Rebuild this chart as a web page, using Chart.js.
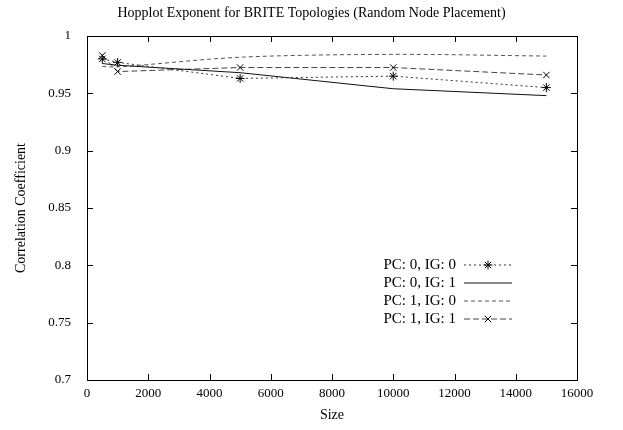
<!DOCTYPE html>
<html>
<head>
<meta charset="utf-8">
<script src="https://cdn.jsdelivr.net/npm/chart.js@4/dist/chart.umd.min.js"></script>
<style>
  html, body { margin: 0; padding: 0; background: #fff; }
  #wrap { width: 623px; height: 430px; }
</style>
</head>
<body>
<div id="wrap"><canvas id="grafico" width="623" height="430"></canvas></div>
<script>
// dados
const tamanhos = [500, 1000, 5000, 10000, 15000];
const pc0ig0 = [0.980, 0.977, 0.963, 0.965, 0.955];
const pc0ig1 = [0.976, 0.9745, 0.968, 0.954, 0.948];
const pc1ig0 = [0.9735, 0.973, 0.9815, 0.984, 0.9825];
const pc1ig1 = [0.983, 0.969, 0.9725, 0.9725, 0.966];
const ticksX = [0, 2000, 4000, 6000, 8000, 10000, 12000, 14000, 16000];
const ticksY = [0.7, 0.75, 0.8, 0.85, 0.9, 0.95, 1];
const titulo = "Hopplot Exponent for BRITE Topologies (Random Node Placement)";

const fonte = "'Liberation Serif', 'Times New Roman', serif";

function pontos(valores) {
  return tamanhos.map((t, i) => ({ x: t, y: valores[i] }));
}

// moldura + marcas internas estilo gnuplot
const moldura = {
  id: "moldura",
  afterDraw(chart) {
    const { ctx, chartArea: a, scales } = chart;
    ctx.save();
    ctx.strokeStyle = "#000";
    ctx.lineWidth = 1;
    ctx.strokeRect(a.left + 0.5, a.top + 0.5, a.right - a.left, a.bottom - a.top);
    ctx.beginPath();
    ticksX.slice(1, -1).forEach(v => {
      const x = Math.round(scales.x.getPixelForValue(v)) + 0.5;
      ctx.moveTo(x, a.bottom); ctx.lineTo(x, a.bottom - 6);
      ctx.moveTo(x, a.top); ctx.lineTo(x, a.top + 6);
    });
    ticksY.slice(1, -1).forEach(v => {
      const y = Math.round(scales.y.getPixelForValue(v)) + 0.5;
      ctx.moveTo(a.left, y); ctx.lineTo(a.left + 6, y);
      ctx.moveTo(a.right, y); ctx.lineTo(a.right - 6, y);
    });
    ctx.stroke();

    // titulo centrado na pagina toda
    ctx.fillStyle = "#000";
    ctx.font = "14px " + fonte;
    ctx.textAlign = "center";
    ctx.textBaseline = "middle";
    ctx.fillText(titulo, chart.width / 2, 13);
    ctx.restore();
  }
};

// legenda dentro do grafico
const legenda = {
  id: "legenda",
  afterDraw(chart) {
    const { ctx } = chart;
    ctx.save();
    ctx.font = "15px " + fonte;
    ctx.textAlign = "right";
    ctx.textBaseline = "middle";
    chart.data.datasets.forEach((ds, i) => {
      const y = 265 + i * 18;
      ctx.fillStyle = "#000";
      ctx.fillText(ds.label, 456, y);
      ctx.strokeStyle = ds.borderColor;
      ctx.lineWidth = ds.borderWidth;
      ctx.setLineDash(ds.borderDash || []);
      ctx.beginPath();
      ctx.moveTo(464, y); ctx.lineTo(512, y);
      ctx.stroke();
      ctx.setLineDash([]);
      if (ds.pointStyle && ds.pointRadius > 0) {
        ctx.fillStyle = ds.pointBorderColor;
        ctx.strokeStyle = ds.pointBorderColor;
        Chart.helpers.drawPoint(ctx, { pointStyle: ds.pointStyle, radius: ds.pointRadius, borderWidth: 1, rotation: 0 }, 488, y);
      }
    });
    ctx.restore();
  }
};

new Chart(document.getElementById("grafico").getContext("2d"), {
  type: "line",
  data: {
    datasets: [
      {
        label: "PC: 0, IG: 0",
        data: pontos(pc0ig0),
        borderColor: "#333",
        borderWidth: 1,
        borderDash: [2, 3],
        pointStyle: "star",
        pointRadius: 4.5,
        pointBorderColor: "#000",
        pointBorderWidth: 1
      },
      {
        label: "PC: 0, IG: 1",
        data: pontos(pc0ig1),
        borderColor: "#111",
        borderWidth: 1,
        pointRadius: 0
      },
      {
        label: "PC: 1, IG: 0",
        data: pontos(pc1ig0),
        borderColor: "#555",
        borderWidth: 1,
        borderDash: [4, 3],
        pointRadius: 0,
        tension: 0.3
      },
      {
        label: "PC: 1, IG: 1",
        data: pontos(pc1ig1),
        borderColor: "#444",
        borderWidth: 1,
        borderDash: [6, 3],
        pointStyle: "crossRot",
        pointRadius: 4.5,
        pointBorderColor: "#000",
        pointBorderWidth: 1
      }
    ]
  },
  options: {
    responsive: false,
    animation: false,
    layout: { padding: { left: 0, right: 46, top: 36, bottom: 0 } },
    plugins: {
      legend: { display: false },
      tooltip: { enabled: false },
      title: { display: false }
    },
    scales: {
      x: {
        type: "linear",
        min: 0,
        max: 16000,
        afterBuildTicks(scale) { scale.ticks = ticksX.map(v => ({ value: v })); },
        afterFit(scale) { scale.height = 50; },
        grid: { display: false, drawTicks: false },
        border: { display: false },
        ticks: {
          color: "#000",
          font: { family: fonte, size: 13 },
          padding: 6,
          maxRotation: 0,
          callback: v => String(v)
        },
        title: { display: true, text: "Size", color: "#000", font: { family: fonte, size: 14 }, padding: { top: 2, bottom: 6 } }
      },
      y: {
        type: "linear",
        min: 0.7,
        max: 1,
        afterBuildTicks(scale) { scale.ticks = ticksY.map(v => ({ value: v })); },
        afterFit(scale) { scale.width = 87; },
        grid: { display: false },
        border: { display: false },
        ticks: {
          color: "#000",
          font: { family: fonte, size: 13 },
          padding: 8,
          callback: v => Number(v.toFixed(2)).toString()
        },
        title: { display: true, text: "Correlation Coefficient", color: "#000", font: { family: fonte, size: 14 }, padding: { top: 13, bottom: 0 } }
      }
    }
  },
  plugins: [moldura, legenda]
});
</script>
</body>
</html>
